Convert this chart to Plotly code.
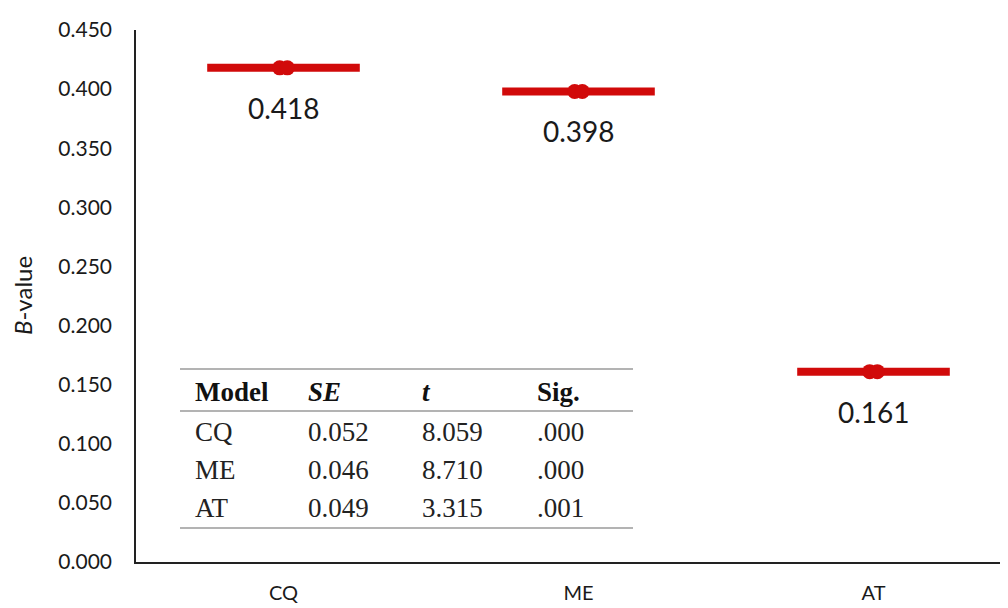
import plotly.graph_objects as go

categories = ["CQ", "ME", "AT"]
b_values = [0.418, 0.398, 0.161]
se_values = ["0.052", "0.046", "0.049"]
t_values = ["8.059", "8.710", "3.315"]
sig_values = [".000", ".000", ".001"]
y_ticks = [0.0, 0.05, 0.1, 0.15, 0.2, 0.25, 0.3, 0.35, 0.4, 0.45]

# page body has an 8px margin; work in screen pixels
OFF = 8
W, H = 1008 - OFF, 608 - OFF
SL, ST, SB, SR = 136, 30, 562, 1008  # plot area in screen px
L, T = SL - OFF, ST - OFF
B = H - (SB - OFF)
R = 0
pw, ph = SR - SL, SB - ST
xs = list(range(len(categories)))
RED = "#d10a0a"

fig = go.Figure()
fig.add_trace(go.Scatter(
    x=xs, y=b_values, mode="markers",
    marker=dict(symbol="line-ew", size=109, line=dict(color=RED, width=8)),
    hoverinfo="skip", showlegend=False))
for dx in (-0.013, 0.013):
    fig.add_trace(go.Scatter(
        x=[x + dx for x in xs], y=b_values, mode="markers",
        marker=dict(symbol="circle", size=15, color=RED),
        hoverinfo="skip", showlegend=False))

ann = []
for x, v in zip(xs, b_values):
    ann.append(dict(x=x, y=v, xref="x", yref="y", text=f"{v:.3f}", showarrow=False,
                    yshift=-40, font=dict(family="Lato", size=28, color="#1a1a1a")))

def px(sx):
    return (sx - SL) / pw

def py(sy):
    return (SB - sy) / ph

serif = "Liberation Serif"
col_x = [193, 306, 420, 535]
headers = ["<b>Model</b>", "<b><i>SE</i></b>", "<b><i>t</i></b>", "<b>Sig.</b>"]
for cx, h in zip(col_x, headers):
    ann.append(dict(x=px(cx), y=py(392), xref="paper", yref="paper", text=h,
                    showarrow=False, xanchor="left", yanchor="middle",
                    font=dict(family=serif, size=27, color="#111")))
row_y = [432, 470, 508]
for ry, c, se, t, s in zip(row_y, categories, se_values, t_values, sig_values):
    for cx, txt in zip(col_x, [c, se, t, s]):
        ann.append(dict(x=px(cx), y=py(ry), xref="paper", yref="paper", text=txt,
                        showarrow=False, xanchor="left", yanchor="middle",
                        font=dict(family=serif, size=27, color="#222")))

ann.append(dict(x=px(22), y=py(296), xref="paper", yref="paper", text="<i>B</i>-value",
                showarrow=False, textangle=-90, xanchor="center", yanchor="middle",
                font=dict(family="Lato", size=24, color="#1a1a1a")))

shapes = []
for ly in (369, 411, 528):
    shapes.append(dict(type="line", xref="paper", yref="paper",
                       x0=px(180), x1=px(633), y0=py(ly), y1=py(ly),
                       line=dict(color="#9a9a9a", width=1.5)))

fig.update_layout(
    width=W, height=H, margin=dict(l=L, r=R, t=T, b=B),
    paper_bgcolor="white", plot_bgcolor="white",
    annotations=ann, shapes=shapes, showlegend=False,
    xaxis=dict(range=[-0.5, -0.5 + pw / 295], tickvals=xs, ticktext=categories,
               showgrid=False, zeroline=False, showline=True, linecolor="#222",
               linewidth=2, ticks="", ticklabelstandoff=12,
               tickfont=dict(family="Lato", size=20, color="#1a1a1a")),
    yaxis=dict(range=[0, 0.45], tickvals=y_ticks, tickformat=".3f",
               showgrid=False, zeroline=False, showline=True, linecolor="#222",
               linewidth=1.5, ticks="", ticklabelstandoff=18,
               tickfont=dict(family="Lato", size=21, color="#1a1a1a")),
)
fig.write_html("out.html")
